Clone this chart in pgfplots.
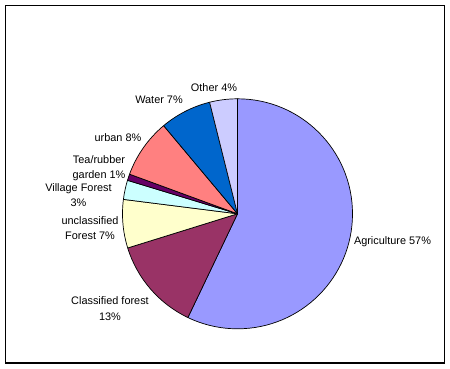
\documentclass[border=0pt]{standalone}
\usepackage{pgfplots}
\usepackage{pgfplotstable}
\pgfplotsset{compat=1.18}
\usepackage{fontspec}
\setmainfont{Liberation Sans}
\definecolor{c0}{HTML}{9999FF}
\definecolor{c1}{HTML}{993366}
\definecolor{c2}{HTML}{FFFFCC}
\definecolor{c3}{HTML}{CCFFFF}
\definecolor{c4}{HTML}{660066}
\definecolor{c5}{HTML}{FF8080}
\definecolor{c6}{HTML}{0066CC}
\definecolor{c7}{HTML}{CCCCFF}
\pgfplotstableread[col sep=comma]{
name,value
Agriculture,57.1
Classified forest,13.1
unclassified Forest,6.8
Village Forest,2.7
Tea/rubber garden,0.9
urban,8.3
Water,7.2
Other,3.9
}\piedata
\begin{document}
\begin{tikzpicture}
\pgfplotstablegetrowsof{\piedata}
\pgfmathtruncatemacro\nrows{\pgfplotsretval-1}
\gdef\cur{90}
\foreach \k in {0,...,\nrows}{
  \pgfplotstablegetelem{\k}{value}\of\piedata
  \pgfmathsetmacro\nxt{\cur-3.6*\pgfplotsretval}
  \expandafter\xdef\csname sa\k\endcsname{\cur}
  \expandafter\xdef\csname ea\k\endcsname{\nxt}
  \xdef\cur{\nxt}
}
\begin{axis}[hide axis, scale only axis, width=450bp, height=368bp,
  xmin=0, xmax=450, ymin=0, ymax=368, y dir=reverse, clip=false]
\path (axis cs:0,0) rectangle (axis cs:450,368);
\draw[line width=1.2bp] (axis cs:5.3,5.3) rectangle (axis cs:444.6,363);
\pgfplotsinvokeforeach{0,...,7}{
  \filldraw[fill=c#1, draw=black, line width=0.7bp, line join=round]
    (axis cs:237.5,213.8) -- ++(\csname sa#1\endcsname:115bp)
    arc[start angle=\csname sa#1\endcsname, end angle=\csname ea#1\endcsname, radius=115bp] -- cycle;
}
\tikzset{lbl/.style={font=\fontsize{10.9bp}{15.5bp}\selectfont, align=center, inner sep=0pt}}
\node[lbl] at (axis cs:392.5,242) {Agriculture 57\%};
\node[lbl] at (axis cs:110,308.5) {Classified forest\\13\%};
\node[lbl] at (axis cs:90,228) {unclassified\\Forest 7\%};
\node[lbl] at (axis cs:78.5,195) {Village Forest\\3\%};
\node[lbl] at (axis cs:99,168) {Tea/rubber\\garden 1\%};
\node[lbl] at (axis cs:118,138) {urban 8\%};
\node[lbl] at (axis cs:159,99.5) {Water 7\%};
\node[lbl] at (axis cs:214,87.5) {Other 4\%};
\end{axis}
\end{tikzpicture}
\end{document}
